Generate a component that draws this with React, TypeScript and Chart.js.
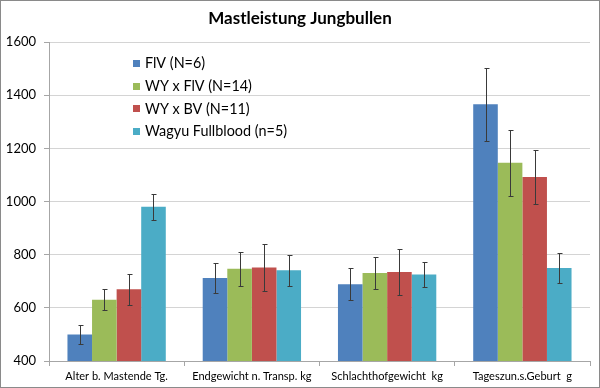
import React, { useEffect, useRef } from "react";
import { Chart, registerables } from "chart.js";

Chart.register(...registerables);

const TITLE = "Mastleistung Jungbullen";
const categories = [
  "Alter b. Mastende Tg.",
  "Endgewicht n. Transp. kg",
  "Schlachthofgewicht  kg",
  "Tageszun.s.Geburt  g",
];
const seriesNames = ["FlV (N=6)", "WY x FlV (N=14)", "WY x BV (N=11)", "Wagyu Fullblood (n=5)"];
const seriesColors = ["#4F81BD", "#9BBB59", "#C0504D", "#4BACC6"];
const flvValues = [500, 712, 689, 1366];
const flvErrors = [37, 58, 60, 138];
const wyFlvValues = [630, 747, 731, 1146];
const wyFlvErrors = [39, 64, 60, 124];
const wyBvValues = [670, 752, 735, 1092];
const wyBvErrors = [58, 90, 85, 100];
const wagyuValues = [980, 741, 725, 750];
const wagyuErrors = [48, 58, 48, 55];
const yMin = 400;
const yMax = 1600;
const yStep = 200;

const FONT = "Lato, 'Open Sans', sans-serif";

const allValues = [flvValues, wyFlvValues, wyBvValues, wagyuValues];
const allErrors = [flvErrors, wyFlvErrors, wyBvErrors, wagyuErrors];

const framePlugin = {
  id: "frame",
  beforeDraw(chart: any) {
    const { ctx, width, height } = chart;
    ctx.save();
    ctx.fillStyle = "#ffffff";
    ctx.fillRect(0, 0, width, height);
    ctx.strokeStyle = "#8a8a8a";
    ctx.lineWidth = 1;
    ctx.strokeRect(0.5, 0.5, width - 1, height - 1);
    ctx.fillStyle = "#000000";
    ctx.font = `bold 17px ${FONT}`;
    ctx.textAlign = "center";
    ctx.textBaseline = "middle";
    ctx.fillText(TITLE, width / 2, 19);
    ctx.restore();
  },
};

const errorBarPlugin = {
  id: "errorBars",
  afterDatasetsDraw(chart: any) {
    const { ctx } = chart;
    const yScale = chart.scales.y;
    ctx.save();
    ctx.strokeStyle = "#3a3a3a";
    ctx.lineWidth = 1;
    chart.data.datasets.forEach((ds: any, di: number) => {
      const meta = chart.getDatasetMeta(di);
      meta.data.forEach((el: any, i: number) => {
        const v = ds.data[i];
        const e = ds.errors[i];
        const x = Math.round(el.x) + 0.5;
        const yt = Math.round(yScale.getPixelForValue(v + e)) + 0.5;
        const yb = Math.round(yScale.getPixelForValue(v - e)) + 0.5;
        ctx.beginPath();
        ctx.moveTo(x, yt);
        ctx.lineTo(x, yb);
        ctx.moveTo(x - 2, yt);
        ctx.lineTo(x + 3, yt);
        ctx.moveTo(x - 2, yb);
        ctx.lineTo(x + 3, yb);
        ctx.stroke();
      });
    });
    ctx.restore();
  },
};

const legendPlugin = {
  id: "innerLegend",
  afterDraw(chart: any) {
    const { ctx } = chart;
    ctx.save();
    ctx.font = `14.4px ${FONT}`;
    ctx.textBaseline = "middle";
    ctx.textAlign = "left";
    chart.data.datasets.forEach((ds: any, i: number) => {
      const cy = 63.5 + i * 22.7;
      ctx.fillStyle = ds.backgroundColor;
      ctx.fillRect(133, Math.round(cy - 3.5), 7, 7);
      ctx.fillStyle = "#000000";
      ctx.fillText(ds.label, 145, cy);
    });
    ctx.restore();
  },
};

export default function App() {
  const ref = useRef<HTMLCanvasElement | null>(null);
  useEffect(() => {
    if (!ref.current) return;
    const chart = new Chart(ref.current, {
      type: "bar",
      data: {
        labels: categories,
        datasets: seriesNames.map((name, i) => ({
          label: name,
          data: allValues[i],
          errors: allErrors[i],
          backgroundColor: seriesColors[i],
          borderWidth: 0,
          categoryPercentage: 0.727,
          barPercentage: 1.0,
        })) as any,
      },
      options: {
        responsive: false,
        animation: false,
        layout: { padding: { top: 42, right: 10, left: 0, bottom: 0 } },
        plugins: {
          legend: { display: false },
          title: { display: false },
          tooltip: { enabled: false },
        },
        scales: {
          x: {
            grid: {
              display: true,
              drawOnChartArea: false,
              drawTicks: true,
              tickLength: 5,
              color: "#a6a6a6",
              offset: true,
            },
            border: { color: "#a6a6a6" },
            ticks: {
              color: "#000000",
              font: { family: FONT, size: 11 },
              padding: 4,
              maxRotation: 0,
              autoSkip: false,
            },
            afterFit(scale: any) {
              scale.height = 27;
            },
          },
          y: {
            min: yMin,
            max: yMax,
            grid: {
              color: "#d4d4d4",
              tickLength: 5,
              tickColor: "#a6a6a6",
            },
            border: { color: "#a6a6a6" },
            ticks: {
              stepSize: yStep,
              color: "#000000",
              font: { family: FONT, size: 13 },
              padding: 8,
              callback: (v: any) => String(v),
            },
            afterFit(scale: any) {
              scale.width = 49;
            },
          },
        },
      } as any,
      plugins: [framePlugin, errorBarPlugin, legendPlugin],
    });
    return () => chart.destroy();
  }, []);
  return (
    <div style={{ position: "absolute", left: 0, top: 0, width: 600, height: 388 }}>
      <canvas ref={ref} width={600} height={388} />
    </div>
  );
}
